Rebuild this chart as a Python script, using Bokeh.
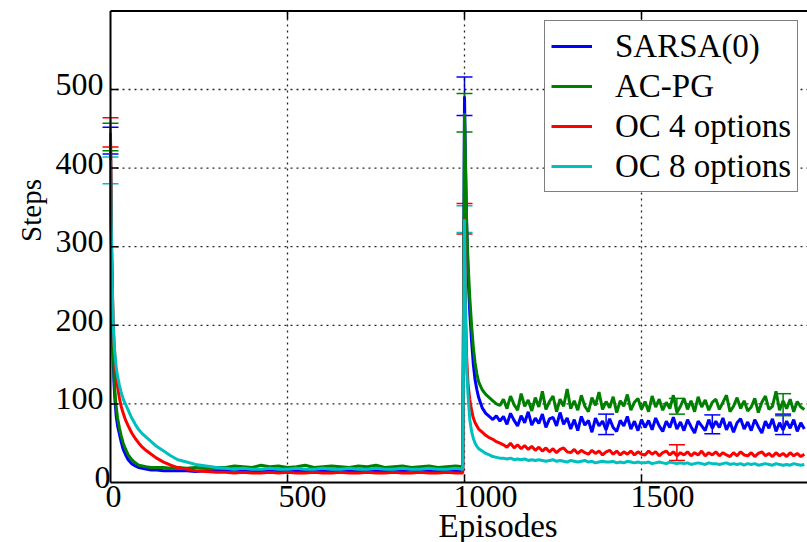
import math
from bokeh.plotting import figure
from bokeh.models import Range1d, Whisker, TeeHead, ColumnDataSource
from bokeh.embed import file_html
from bokeh.resources import INLINE

# ---------------- data ----------------
ep_a = [0, 2, 4, 6, 8, 10, 13, 16, 20, 25, 30, 36, 42, 50, 60, 70, 80, 90, 100,
        115, 130, 150, 170, 190, 215, 240, 270, 300]
ep_b = list(range(325, 976, 25)) + [995]
ep_c = [1000, 1003, 1006, 1010, 1015, 1020, 1025, 1030, 1035, 1040, 1050, 1060, 1070, 1080, 1090, 1100]
ep_d = list(range(1110, 1961, 10))
episodes = ep_a + ep_b + ep_c + ep_d

series_names = ["SARSA(0)", "AC-PG", "OC 4 options", "OC 8 options"]
series_colors = ["#0000ff", "#008000", "#ff0000", "#00bfbf"]

sarsa = ([435, 320, 240, 185, 150, 125, 102, 85, 72, 62, 52, 42, 36, 29, 24, 21, 19, 18, 17, 16,
          16, 15, 15, 15, 15, 14, 15, 15]
         + [15, 16, 15, 14, 15, 16, 15, 15, 14, 15, 16, 15, 15, 14, 15, 15, 16, 15, 14, 15,
            15, 16, 15, 14, 15, 16, 15, 15]
         + [491, 400, 330, 265, 215, 180, 150, 130, 118, 108, 95, 88, 84, 80, 85, 78]
         + [84, 74, 88, 79, 72, 85, 76, 90, 73, 82,
            75, 87, 70, 81, 83, 72, 89, 74, 82, 68,
            80, 66, 84, 73, 79, 64, 82, 72, 78, 67,
            81, 70, 65, 79, 72, 84, 68, 78, 66, 80,
            70, 79, 67, 82, 72, 65, 78, 70, 83, 68,
            77, 66, 80, 71, 63, 78, 72, 66, 80, 69,
            78, 70, 82, 67, 77, 64, 76, 81, 68, 77,
            66, 80, 71, 63, 78, 69, 81, 65, 76, 67,
            78, 69, 80, 65, 76, 68])

acpg = ([440, 330, 255, 200, 162, 136, 112, 96, 82, 70, 60, 50, 43, 35, 29, 25, 22, 21, 20, 19,
         19, 19, 18, 19, 18, 19, 18, 19]
        + [19, 21, 20, 19, 22, 20, 21, 19, 20, 22, 19, 20, 21, 20, 19, 21, 20, 22, 19, 20,
           21, 19, 20, 21, 19, 20, 21, 20]
        + [470, 400, 330, 280, 235, 200, 172, 152, 138, 128, 118, 112, 108, 104, 100, 98]
        + [106, 94, 110, 99, 92, 113, 97, 105, 91, 108,
           96, 116, 93, 103, 110, 90, 106, 97, 119, 94,
           104, 92, 111, 97, 90, 108, 98, 115, 93, 103,
           95, 109, 89, 104, 97, 112, 92, 102, 107, 93,
           103, 90, 110, 96, 106, 92, 102, 94, 111, 89,
           97, 107, 93, 104, 90, 109, 96, 105, 92, 102,
           106, 93, 102, 111, 90, 97, 108, 94, 104, 91,
           96, 107, 89, 102, 110, 93, 97, 116, 92, 104,
           94, 106, 90, 103, 96, 93])

oc4 = ([445, 340, 280, 235, 200, 178, 155, 138, 122, 108, 97, 88, 80, 72, 63, 56, 50, 45, 41, 36,
        31, 26, 22, 19, 17, 15, 14, 13]
       + [13, 12, 13, 12, 12, 13, 12, 13, 12, 12, 13, 12, 12, 13, 12, 12, 13, 12, 12, 13,
          12, 12, 13, 12, 12, 13, 12, 12]
       + [336, 220, 160, 125, 105, 92, 82, 76, 72, 68, 64, 60, 57, 55, 52, 50]
       + [48, 45, 50, 44, 48, 43, 47, 42, 46, 41,
          45, 40, 44, 39, 43, 38, 42, 44, 39, 38,
          42, 37, 41, 38, 36, 41, 37, 40, 35, 39,
          41, 36, 40, 35, 39, 36, 40, 35, 39, 36,
          35, 40, 36, 39, 34, 38, 40, 35, 39, 34,
          38, 35, 39, 34, 38, 35, 40, 34, 38, 35,
          39, 34, 38, 35, 33, 38, 34, 39, 35, 34,
          38, 33, 37, 39, 34, 37, 33, 38, 34, 37,
          33, 38, 34, 37, 33, 36])

oc8 = ([410, 330, 270, 230, 198, 178, 160, 147, 135, 124, 115, 106, 100, 92, 82, 74, 67, 62, 58, 52,
        46, 40, 34, 29, 26, 23, 21, 19]
       + [18, 17, 18, 17, 17, 18, 17, 17, 18, 17, 17, 18, 17, 17, 18, 17, 17, 18, 17, 17,
          18, 17, 17, 18, 17, 17, 18, 17]
       + [335, 200, 145, 111, 80, 65, 56, 50, 46, 43, 40, 37, 35, 33, 32, 31]
       + [31, 30, 31, 29, 30, 29, 30, 28, 29, 28,
          29, 28, 27, 28, 29, 27, 28, 27, 26, 28,
          27, 26, 27, 28, 26, 27, 25, 26, 27, 26,
          26, 27, 25, 26, 25, 27, 26, 25, 26, 25,
          25, 26, 24, 25, 26, 25, 24, 26, 25, 24,
          25, 24, 25, 23, 24, 25, 24, 23, 25, 24,
          24, 23, 24, 25, 23, 24, 23, 24, 22, 24,
          23, 24, 22, 23, 24, 23, 22, 24, 23, 22,
          23, 22, 24, 23, 22, 23])

# error bars: episode, lower, upper
sarsa_err_ep = [0, 1000, 1400, 1700, 1900]
sarsa_err_lo = [418, 467, 61, 62, 61]
sarsa_err_hi = [452, 516, 87, 86, 87]
acpg_err_ep = [0, 1000, 1600, 1900]
acpg_err_lo = [422, 446, 87, 85]
acpg_err_hi = [457, 495, 107, 113]
oc4_err_ep = [0, 1000, 1600]
oc4_err_lo = [427, 316, 28]
oc4_err_hi = [464, 355, 48]
oc8_err_ep = [0, 1000]
oc8_err_lo = [380, 318]
oc8_err_hi = [414, 352]

x_ticks = [0, 500, 1000, 1500]
x_tick_labels = ["0", "500", "1000", "1500"]
y_ticks = [0, 100, 200, 300, 400, 500]
y_tick_labels = ["0", "100", "200", "300", "400", "500"]
y_top = 600
x_label = "Episodes"
y_label = "Steps"

# ---------------- layout (pixels) ----------------
W, H = 807, 542
X0_PX, XSCALE = 110.0, 0.354    # px of x=0, px per episode
Y0_PX, YSCALE = 482.0, 0.786    # px of y=0, px per step


def px_to_x(px):
    return (px - X0_PX) / XSCALE


def px_to_y(py):
    return (Y0_PX - py) / YSCALE


x_end = px_to_x(W)

p = figure(width=W, height=H, output_backend="svg", toolbar_location=None,
           x_range=Range1d(px_to_x(0), px_to_x(W)), y_range=Range1d(px_to_y(H), px_to_y(0)),
           min_border=0, x_axis_location=None, y_axis_location=None)
p.outline_line_color = None
p.xgrid.visible = False
p.ygrid.visible = False
p.background_fill_color = "white"
p.border_fill_color = "white"

serif = "Liberation Serif"

# grid (dotted)
gx = x_ticks[1:]
p.segment(x0=gx, y0=[0] * len(gx), x1=gx, y1=[y_top] * len(gx),
          line_color="black", line_dash="2 4", line_width=1.3, line_alpha=0.85)
gy = y_ticks[1:]
p.segment(x0=[0] * len(gy), y0=gy, x1=[x_end] * len(gy), y1=gy,
          line_color="black", line_dash="2 4", line_width=1.3, line_alpha=0.85)

# data lines
all_series = [sarsa, acpg, oc4, oc8]
for name, color, ys in zip(series_names, series_colors, all_series):
    p.line(episodes, ys, line_color=color, line_width=3, legend_label=name)

# frame lines
p.segment(x0=[0, 0, 0], y0=[0, 0, y_top], x1=[0, x_end, x_end], y1=[y_top, 0, y_top],
          line_color="black", line_width=2)

# inward ticks
p.ray(x=gx, y=[0] * len(gx), length=8, length_units="screen", angle=math.pi / 2,
      line_color="black", line_width=1.5)
p.ray(x=gx, y=[y_top] * len(gx), length=8, length_units="screen", angle=-math.pi / 2,
      line_color="black", line_width=1.5)
p.ray(x=[0] * len(gy), y=gy, length=8, length_units="screen", angle=0,
      line_color="black", line_width=1.5)

# tick labels
xl_src = ColumnDataSource(dict(x=x_ticks, y=[0] * len(x_ticks), t=x_tick_labels,
                               xo=[-(3 + 2 * len(t)) for t in x_tick_labels]))
p.text(x="x", y="y", text="t", x_offset="xo", y_offset=14, source=xl_src,
       text_align="left", text_baseline="alphabetic", text_font=serif,
       text_font_size="32px", text_color="black")
yl_src = ColumnDataSource(dict(x=[0] * len(y_ticks), y=y_ticks, t=y_tick_labels,
                               xo=[-7 if len(t) > 1 else 0 for t in y_tick_labels]))
p.text(x="x", y="y", text="t", x_offset="xo", y_offset=-5, source=yl_src,
       text_align="right", text_baseline="alphabetic", text_font=serif,
       text_font_size="32px", text_color="black")

# axis titles
p.text(x=[px_to_x(438)], y=[px_to_y(525)], text=[x_label], text_align="left",
       text_baseline="alphabetic", text_font=serif, text_font_size="33px", text_color="black")
p.text(x=[px_to_x(30)], y=[px_to_y(210)], text=[y_label], angle=math.pi / 2, text_align="center",
       text_baseline="alphabetic", text_font="Lato", text_font_size="29px", text_color="black")

# error bars
all_err = [(sarsa_err_ep, sarsa_err_lo, sarsa_err_hi),
           (acpg_err_ep, acpg_err_lo, acpg_err_hi),
           (oc4_err_ep, oc4_err_lo, oc4_err_hi),
           (oc8_err_ep, oc8_err_lo, oc8_err_hi)]
for color, (ee, lo, hi) in zip(series_colors, all_err):
    src = ColumnDataSource(dict(x=ee, lo=lo, hi=hi))
    w = Whisker(base="x", lower="lo", upper="hi", source=src, line_color=color, line_width=1.5,
                upper_head=TeeHead(size=16, line_color=color, line_width=1.5),
                lower_head=TeeHead(size=16, line_color=color, line_width=1.5))
    p.add_layout(w)

leg = p.legend[0]
leg.location = (544, 350)
leg.label_text_font = serif
leg.label_text_font_size = "33px"
leg.label_text_color = "black"
leg.label_height = 38
leg.glyph_height = 38
leg.glyph_width = 41
leg.label_standoff = 23
leg.spacing = 2
leg.padding = 6
leg.margin = 0
leg.border_line_color = "black"
leg.border_line_width = 1.5
leg.background_fill_alpha = 1.0

open("out.html", "w").write(file_html(p, INLINE))
